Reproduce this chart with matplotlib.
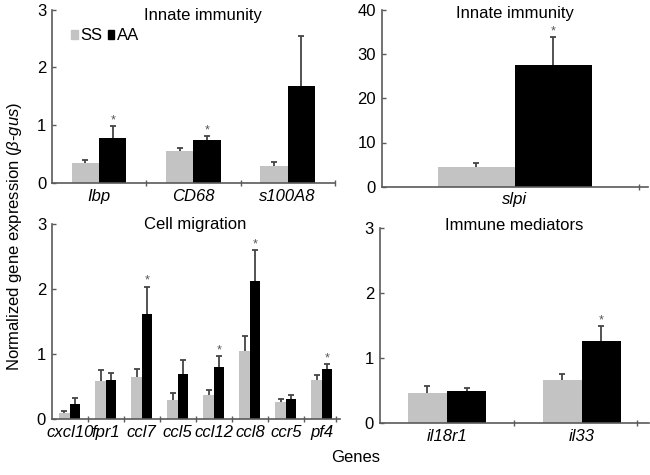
import numpy as np
import matplotlib
matplotlib.use('Agg')
import matplotlib.pyplot as plt
from matplotlib.patches import Patch

plt.rcParams['font.family'] = ['Liberation Sans', 'DejaVu Sans']
plt.rcParams['mathtext.fontset'] = 'custom'
plt.rcParams['mathtext.rm'] = 'Liberation Sans'
plt.rcParams['mathtext.it'] = 'Liberation Sans:italic'

# --- data ---
innate_genes = ['Ibp', 'CD68', 's100A8']
innate_ss = [0.35, 0.56, 0.30]
innate_ss_err = [0.05, 0.05, 0.07]
innate_aa = [0.79, 0.75, 1.68]
innate_aa_err = [0.20, 0.065, 0.87]
innate_star = [True, True, False]

slpi_genes = ['slpi']
slpi_ss = [4.5]
slpi_ss_err = [0.9]
slpi_aa = [27.5]
slpi_aa_err = [6.3]
slpi_star = [True]

migr_genes = ['cxcl10', 'fpr1', 'ccl7', 'ccl5', 'ccl12', 'ccl8', 'ccr5', 'pf4']
migr_ss = [0.10, 0.59, 0.65, 0.30, 0.37, 1.05, 0.27, 0.61]
migr_ss_err = [0.03, 0.17, 0.13, 0.10, 0.08, 0.23, 0.04, 0.08]
migr_aa = [0.235, 0.61, 1.62, 0.70, 0.81, 2.12, 0.31, 0.77]
migr_aa_err = [0.095, 0.10, 0.42, 0.22, 0.16, 0.48, 0.06, 0.075]
migr_star = [False, False, True, False, True, True, False, True]

med_genes = ['il18r1', 'il33']
med_ss = [0.47, 0.66]
med_ss_err = [0.11, 0.10]
med_aa = [0.49, 1.27]
med_aa_err = [0.05, 0.22]
med_star = [False, True]

SS_COLOR = '#c3c3c3'
AA_COLOR = '#000000'
AXIS_COLOR = '#5a5a5a'
ERR_COLOR = '#444444'
W = 0.29
FS = 12


def up_errors(ax, xs, vals, errs):
    # one-sided (upper) error bars, drawn on top of the bars
    tops = np.array(vals) + np.array(errs)
    ax.vlines(xs, vals, tops, color=ERR_COLOR, lw=1.3, zorder=3)
    ax.plot(xs, tops, ls='none', marker='_', ms=5, mew=1.3, color=ERR_COLOR, zorder=3)


def draw_panel(ax, genes, ss, ss_err, aa, aa_err, stars, ymax, yticks, title,
               title_x, title_dy, end_pad=0.0):
    x = np.arange(len(genes))
    ax.bar(x - W / 2, ss, W, color=SS_COLOR, edgecolor='none', zorder=2)
    ax.bar(x + W / 2, aa, W, color=AA_COLOR, edgecolor='none', zorder=2)
    up_errors(ax, x - W / 2, ss, ss_err)
    up_errors(ax, x + W / 2, aa, aa_err)
    for xi, v, e, s in zip(x, aa, aa_err, stars):
        if s:
            ax.annotate('*', (xi + W / 2, v + e), xytext=(0, 2), textcoords='offset points',
                        ha='center', va='baseline', fontsize=9, color='#555555')
    ax.set_xlim(-0.5, len(genes) - 0.5)
    ax.set_ylim(0, ymax)
    ax.set_yticks(yticks)
    ax.set_xticks(x)
    ax.set_xticklabels(genes, fontstyle='italic', fontsize=FS)
    ax.tick_params(axis='x', which='major', length=0, pad=4)
    ax.set_xticks(list(np.arange(0.5, len(genes) - 0.5)) + [len(genes) - 0.5 - end_pad], minor=True)
    ax.tick_params(axis='x', which='minor', direction='inout', length=4, color=AXIS_COLOR, width=1)
    ax.tick_params(axis='y', direction='in', length=3, color=AXIS_COLOR, width=1,
                   labelsize=FS, pad=4)
    for sp in ['top', 'right']:
        ax.spines[sp].set_visible(False)
    for sp in ['left', 'bottom']:
        ax.spines[sp].set_color(AXIS_COLOR)
        ax.spines[sp].set_linewidth(1.2)
    ax.annotate(title, (title_x, 1.0), xycoords=('data', 'axes fraction'),
                xytext=(0, title_dy), textcoords='offset points',
                ha='center', va='center', fontsize=FS)


fig = plt.figure(figsize=(6.5, 4.75), dpi=100)

ax1 = fig.add_axes([0.080, 0.614, 0.435, 0.366])
draw_panel(ax1, innate_genes, innate_ss, innate_ss_err, innate_aa, innate_aa_err,
           innate_star, 3, [0, 1, 2, 3], 'Innate immunity', 1.1, -4)
ax1.legend(handles=[Patch(color=SS_COLOR, label='SS'), Patch(color=AA_COLOR, label='AA')],
           loc='upper left', bbox_to_anchor=(0.045, 0.93), ncol=2, frameon=False,
           handlelength=0.4, handleheight=0.4, handletextpad=0.15, columnspacing=0.3,
           fontsize=FS, borderaxespad=0)

ax2 = fig.add_axes([0.587, 0.607, 0.410, 0.372])
draw_panel(ax2, slpi_genes, slpi_ss, slpi_ss_err, slpi_aa, slpi_aa_err,
           slpi_star, 40, [0, 10, 20, 30, 40], 'Innate immunity', 0.0, -2.5, end_pad=0.035)

ax3 = fig.add_axes([0.0795, 0.117, 0.4435, 0.411])
draw_panel(ax3, migr_genes, migr_ss, migr_ss_err, migr_aa, migr_aa_err,
           migr_star, 3, [0, 1, 2, 3], 'Cell migration', 3.47, 0, end_pad=0.1)

ax4 = fig.add_axes([0.584, 0.109, 0.415, 0.410])
draw_panel(ax4, med_genes, med_ss, med_ss_err, med_aa, med_aa_err,
           med_star, 3, [0, 1, 2, 3], 'Immune mediators', 0.5, 2, end_pad=0.09)

fig.text(0.022, 1 - 236 / 475, r'Normalized gene expression ($\beta$-$gus$)',
         rotation=90, ha='center', va='center', fontsize=FS)
fig.text(356 / 650, 1 - 458 / 475, 'Genes', ha='center', va='center', fontsize=FS)

fig.savefig('out.png', dpi=100)
